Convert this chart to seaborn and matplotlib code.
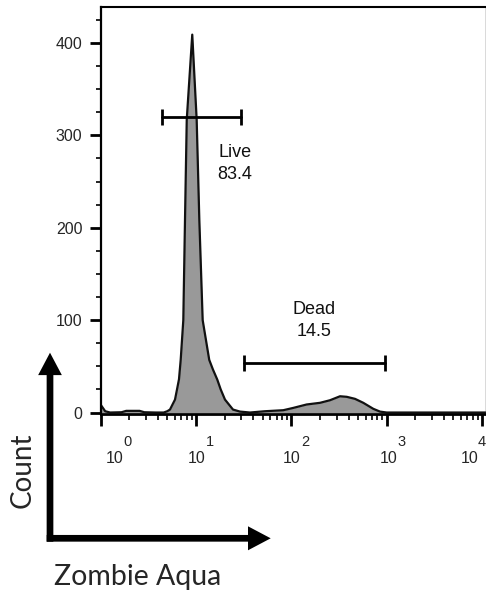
import matplotlib
matplotlib.use("Agg")
import matplotlib.pyplot as plt
from matplotlib.patches import FancyArrow
from matplotlib.ticker import LogLocator, NullFormatter
from matplotlib.transforms import ScaledTranslation
import numpy as np
import pandas as pd
import seaborn as sns

# histogram outline (Zombie Aqua intensity vs count)
intensity = [1.0, 1.12, 1.26, 1.66, 1.86, 2.57, 2.88, 3.8, 4.6, 5.01, 5.35,
             6.04, 6.34, 6.65, 6.93, 7.38, 7.69, 8.02, 9.16, 10.19, 10.86,
             11.78, 13.8, 15.1, 16.75, 18.2, 20.18, 24.49, 28.97, 36.9,
             52.97, 82.41, 104.95, 144.88, 200.0, 254.68, 324.34, 381.07,
             465.59, 568.85, 724.44, 851.14, 1000.0, 3000.0, 11000.0]
count = [8.7, 1.4, 0.0, 0.3, 1.8, 1.8, 0.3, 0.0, 0.0, 1.4, 3.2,
         14, 25, 36, 57, 100, 209, 317, 409, 317, 209,
         100, 57, 46.5, 35.7, 25, 14, 3.2, 1.0, 0.0,
         1.4, 2.5, 5.0, 8.7, 10.5, 13.3, 17.6, 17.0,
         14.8, 10.5, 4.0, 1.0, 0.0, 0.0, 0.0]

live_gate = [4.38, 29.5]
live_level = 320
dead_gate = [31.9, 959]
dead_level = 54
gate_texts = ["Live\n83.4", "Dead\n14.5"]
gate_text_x = [25.7, 173]
gate_text_y = [269.5, 99.6]

x_decades = [0, 1, 2, 3, 4]
y_major = [0, 100, 200, 300, 400]
y_minor = [25, 50, 75, 125, 150, 175, 225, 250, 275, 325, 350, 375, 425]

sns.set_style("ticks")
plt.rcParams['font.family'] = ['Liberation Sans', 'DejaVu Sans']

fig = plt.figure(figsize=(4.86, 5.97), dpi=100)
ax = fig.add_axes([100.5 / 486, (597 - 414) / 597, 385 / 486, 407 / 597])

df = pd.DataFrame({'intensity': intensity, 'count': count})
ax.set_xscale('log')
ax.fill_between(df['intensity'], df['count'], 0, color='#999999', lw=0, zorder=1)
sns.lineplot(data=df, x='intensity', y='count', color='#111111', lw=1.6,
             ax=ax, zorder=2)

ax.set_xlim(1, 10 ** 4.036)
ax.set_ylim(-1.6, 438.9)
ax.set_xlabel('')
ax.set_ylabel('')

# gates
for (x0, x1), lvl in ((live_gate, live_level), (dead_gate, dead_level)):
    ax.plot([x0, x1], [lvl, lvl], color='black', lw=2.0, zorder=3)
    ax.plot([x0, x1], [lvl, lvl], ls='none', marker='|', ms=11, mew=2.0,
            color='black', zorder=3)

for txt, tx, ty in zip(gate_texts, gate_text_x, gate_text_y):
    ax.text(tx, ty, txt, ha='center', va='center', fontsize=13,
            linespacing=1.4, color='#111111')

# ticks
ax.set_xticks([10 ** k for k in x_decades])
ax.set_xticklabels(['10'] * len(x_decades))
ax.xaxis.set_minor_locator(LogLocator(base=10, subs=np.arange(2, 10)))
ax.xaxis.set_minor_formatter(NullFormatter())
ax.set_yticks(y_major)
ax.set_yticks(y_minor, minor=True)

ax.tick_params(axis='x', which='major', direction='out', length=8.5, width=2,
               pad=18, labelsize=11.5, color='black')
ax.tick_params(axis='x', which='minor', direction='out', length=4, width=1.2,
               color='black')
ax.tick_params(axis='y', which='major', direction='out', length=8, width=2,
               pad=5, labelsize=11.5, color='black')
ax.tick_params(axis='y', which='minor', direction='out', length=3.6, width=1.2,
               color='black')

label_dx = [14, 1, 0, 2, -12]
exp_dx = [27, 14.5, 14, 14.8, -0.5]
for lab, dx in zip(ax.get_xticklabels(), label_dx):
    lab.set_transform(lab.get_transform() +
                      ScaledTranslation(dx / 100, 0, fig.dpi_scale_trans))
for k, dx in zip(x_decades, exp_dx):
    ax.annotate(str(k), xy=(10 ** k, 0), xycoords=('data', 'axes fraction'),
                xytext=(dx * 0.72, -28 * 0.72), textcoords='offset points',
                ha='center', va='center', fontsize=10.5, annotation_clip=False)

ax.spines['left'].set_linewidth(1.6)
ax.spines['bottom'].set_linewidth(2.0)
ax.spines['top'].set_linewidth(1.5)
ax.spines['right'].set_linewidth(1.0)
ax.spines['right'].set_color('#444444')
for s in ('left', 'bottom', 'top'):
    ax.spines[s].set_color('black')

# axis legend arrows bottom-left (inches from bottom-left of figure)
up = FancyArrow(0.50, 0.553, 0, 1.89, width=0.067, head_width=0.237,
                head_length=0.224, length_includes_head=True,
                transform=fig.dpi_scale_trans, color='black', lw=0)
right = FancyArrow(0.467, 0.587, 2.24, 0, width=0.067, head_width=0.24,
                   head_length=0.227, length_includes_head=True,
                   transform=fig.dpi_scale_trans, color='black', lw=0)
fig.add_artist(up)
fig.add_artist(right)

fig.text(0.23, 5.97 - 4.70, 'Count', rotation=90, ha='center', va='center',
         fontsize=20, family=['Lato', 'DejaVu Sans'],
         transform=fig.dpi_scale_trans)
fig.text(1.38, 0.12, 'Zombie Aqua', ha='center', va='baseline',
         fontsize=20.5, family=['Lato', 'DejaVu Sans'],
         transform=fig.dpi_scale_trans)

fig.savefig('out.png', dpi=100)
